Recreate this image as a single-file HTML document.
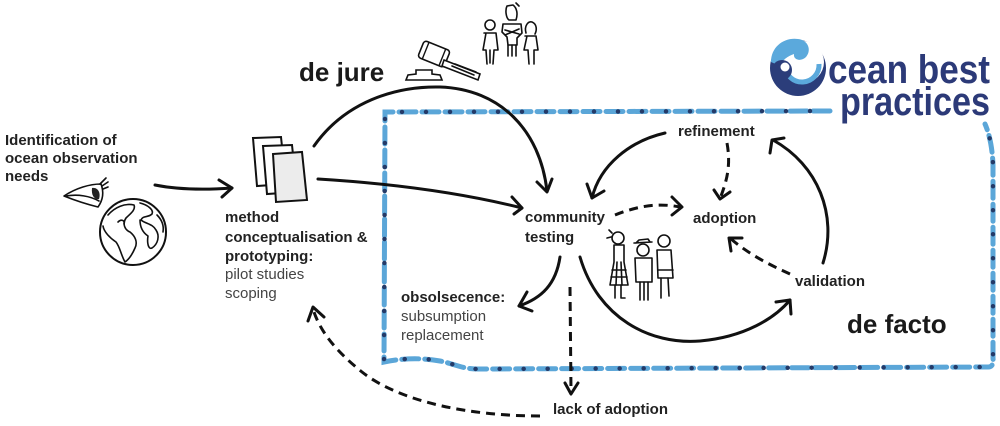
<!DOCTYPE html>
<html>
<head>
<meta charset="utf-8">
<style>
html,body{margin:0;padding:0;background:#fff;}
svg{display:block;}
.b{font-family:"Liberation Sans",Arial,sans-serif;font-weight:bold;font-size:15px;fill:#222;}
.n{font-family:"Liberation Sans",Arial,sans-serif;font-weight:normal;font-size:15px;fill:#444;}
.big{font-family:"Liberation Sans",Arial,sans-serif;font-weight:bold;font-size:26px;fill:#1a1a1a;}
.logo{font-family:"Liberation Sans",Arial,sans-serif;font-weight:bold;font-size:40px;fill:#2c3a78;}
.a{fill:none;stroke:#111;stroke-width:3;stroke-linecap:round;stroke-linejoin:round;}
.d{fill:none;stroke:#111;stroke-width:3;stroke-dasharray:9 6;stroke-linecap:butt;}
.t{fill:none;stroke:#111;stroke-width:1.6;stroke-linecap:round;stroke-linejoin:round;}
</style>
</head>
<body>
<svg width="1000" height="426" viewBox="0 0 1000 426" xmlns="http://www.w3.org/2000/svg">
<rect width="1000" height="426" fill="#fff"/>

<!-- border box -->
<path id="bx" d="M830,111 L385,112 L384,362 C398,359 418,357 440,361 C455,364 462,369 478,369 L988,367 Q994,367 993,358 L993,165 Q992,140 985,124" fill="none" stroke="#5ba6d8" stroke-width="5" stroke-dasharray="17 6" stroke-linecap="round"/>
<path d="M830,111 L385,112 L384,362 C398,359 418,357 440,361 C455,364 462,369 478,369 L988,367 Q994,367 993,358 L993,165 Q992,140 985,124" fill="none" stroke="#243a68" stroke-width="4.5" stroke-dasharray="0 24" stroke-dashoffset="-20" stroke-linecap="round"/>

<!-- logo -->
<circle cx="798" cy="68" r="28" fill="#2b3d7a"/>
<circle cx="803" cy="62" r="21" fill="#fff"/>
<path d="M802,62 m-17,4 a17,17 0 0 0 34,-2" fill="none" stroke="#5ba9dc" stroke-width="5"/>
<path d="M771,62 C771,46 785,37 798,39 C808,40 812,50 806,57 C801,62 793,60 794,54 C788,56 782,60 780,66 Z" fill="#5ba9dc"/>
<circle cx="782" cy="70" r="10" fill="#2b3d7a"/>
<circle cx="785" cy="67" r="4.5" fill="#fff"/>
<text class="logo" x="828" y="83" textLength="162" lengthAdjust="spacingAndGlyphs">cean best</text>
<text class="logo" x="840" y="115" textLength="150" lengthAdjust="spacingAndGlyphs">practices</text>

<!-- texts -->
<text class="b" x="5" y="145">Identification of</text>
<text class="b" x="5" y="163">ocean observation</text>
<text class="b" x="5" y="181">needs</text>

<text class="b" x="225" y="222">method</text>
<text class="b" x="225" y="242">conceptualisation &amp;</text>
<text class="b" x="225" y="261">prototyping:</text>
<text class="n" x="225" y="279">pilot studies</text>
<text class="n" x="225" y="298">scoping</text>

<text class="big" x="299" y="81">de jure</text>
<text class="big" x="847" y="333">de facto</text>

<text class="b" x="678" y="136">refinement</text>
<text class="b" x="525" y="222">community</text>
<text class="b" x="525" y="242">testing</text>
<text class="b" x="693" y="223">adoption</text>
<text class="b" x="795" y="286">validation</text>
<text class="b" x="401" y="302">obsolsecence:</text>
<text class="n" x="401" y="321">subsumption</text>
<text class="n" x="401" y="340">replacement</text>
<text class="b" x="553" y="414">lack of adoption</text>

<!-- arrows -->
<path class="a" d="M155,185 C180,190 205,190 232,188"/>
<path class="a" d="M219,180 L232,188 L222,197"/>

<path class="a" d="M314,146 C345,102 395,86 440,87 C500,89 540,130 547,191"/>
<path class="a" d="M537,182 L547,192 L552,179"/>

<path class="a" d="M318,179 C400,184 470,195 522,208"/>
<path class="a" d="M512,197 L522,208 L514,214"/>

<path class="a" d="M665,133 C630,141 600,165 592,198"/>
<path class="a" d="M587,184 L592,198 L604,191"/>

<path class="d" d="M727,143 C731,165 727,180 721,196"/>
<path class="a" d="M714,190 L720,199 L730,192"/>

<path class="d" d="M615,215 C640,205 660,203 680,207"/>
<path class="a" d="M672,197 L682,207 L672,215"/>

<path class="d" d="M790,274 C770,265 750,255 731,239"/>
<path class="a" d="M731,251 L729,238 L742,238"/>

<path class="a" d="M823,263 C838,215 818,165 773,140"/>
<path class="a" d="M770,153 L772,140 L784,138"/>

<path class="a" d="M560,257 C556,284 542,298 519,306"/>
<path class="a" d="M527,292 L519,306 L532,311"/>

<path class="a" d="M580,257 C598,318 650,345 700,341 C745,337 775,318 790,300"/>
<path class="a" d="M776,302 L790,300 L791,314"/>

<path class="d" d="M570,287 L571,392"/>
<path class="a" d="M565,383 L571,394 L578,383"/>

<path class="d" d="M540,416 C470,416 400,402 362,372 C337,352 320,332 313,309"/>
<path class="a" d="M308,321 L313,307 L324,317"/>

<!-- eye -->
<path class="t" d="M64,196 C76,188 90,184 101,184 C104,192 103,200 98,207 C86,204 74,200 64,196 Z"/>
<path class="t" d="M66,196 C78,194 90,196 99,201"/>
<path d="M92,188 C98,187 101,193 99,199 C95,200 91,196 92,188 Z" fill="#222"/>
<path class="t" d="M100,184 L106,178 M102,186 L108,182 M103,189 L108,187"/>

<!-- globe -->
<circle cx="133" cy="232" r="33" fill="#fff" stroke="#111" stroke-width="2"/>
<path class="t" d="M108,215 C115,207 125,203 134,205 C136,210 130,214 126,218 C122,224 125,230 130,232 C135,236 138,242 135,248 C132,255 128,260 125,262 C121,255 120,247 116,242 C110,238 104,232 103,226"/>
<path class="t" d="M140,203 C148,205 154,210 152,214 C148,218 143,215 141,220 C146,224 153,224 156,230 C160,236 158,244 152,248 C148,250 147,242 148,236 C142,232 140,226 140,220"/>
<path class="t" d="M118,222 C121,219 125,220 124,224"/>
<path class="t" d="M157,215 C162,220 164,226 163,232"/>

<!-- papers -->
<path d="M253,138 L281,137 L286,184 L257,186 Z" fill="#fff" stroke="#111" stroke-width="2"/>
<path d="M263,146 L292,145 L297,192 L267,194 Z" fill="#fff" stroke="#111" stroke-width="2"/>
<path d="M273,154 L302,152 L307,200 L276,202 Z" fill="#ececec" stroke="#111" stroke-width="2"/>

<!-- gavel -->
<path d="M406,80 L442,80 L440,75 L432,74 L432,70 L416,70 L416,74 L408,75 Z" fill="#fff" stroke="#111" stroke-width="1.6"/>
<g transform="rotate(22 434 54)">
<rect x="420" y="45" width="28" height="18" rx="3" fill="#fff" stroke="#111" stroke-width="1.6"/>
<line x1="425" y1="45" x2="425" y2="63" stroke="#111" stroke-width="1.4"/>
<line x1="443" y1="45" x2="443" y2="63" stroke="#111" stroke-width="1.4"/>
</g>
<path d="M444,60 L480,74 L478,80 L442,66 Z" fill="#fff" stroke="#111" stroke-width="1.6"/>
<path class="t" d="M452,66 L474,75 M455,64 L476,72"/>

<!-- adult people -->
<g class="t">
<circle cx="490" cy="25" r="5"/>
<path d="M484,33 L496,33 L498,50 L494,50 L493,64 M486,33 L483,50 L486,50 L487,64 M490,50 L490,63"/>
<path d="M507,6 C505,10 506,18 509,20 L516,20 C518,14 517,8 513,5 Z"/>
<path d="M516,3 L519,6"/>
<path d="M503,24 L521,24 L522,33 L517,38 L517,45 L508,45 L507,37 L502,32 Z M505,30 L519,34 M505,35 L519,29"/>
<path d="M508,45 L508,56 M512,45 L512,56 M516,45 L516,56"/>
<path d="M526,33 C524,26 528,21 532,22 C537,24 537,30 535,34"/>
<path d="M525,36 L536,36 L538,50 L534,50 L534,64 M527,36 L524,50 L528,50 L529,64"/>
</g>

<!-- children -->
<g class="t">
<circle cx="618" cy="238" r="6"/>
<path d="M612,233 L609,230 M611,237 L607,238"/>
<path d="M614,245 L624,245 L624,262 L628,285 L610,285 L614,262 Z"/>
<path d="M612,270 L626,270 M611,277 L627,277 M617,262 L616,285 M621,262 L622,285"/>
<path d="M615,285 L615,298 M621,285 L621,298 L625,298"/>
<circle cx="643" cy="250" r="6"/>
<path d="M634,243 L652,242 M636,243 L639,240 L648,239 L650,242"/>
<path d="M635,258 L652,258 L652,282 L636,282 Z"/>
<path d="M640,282 L640,300 M644,282 L644,300 M648,282 L648,300"/>
<circle cx="664" cy="241" r="6"/>
<path d="M657,250 L671,250 L673,278 L658,278 Z"/>
<path d="M658,270 L673,270"/>
<path d="M661,278 L661,298 M668,278 L669,296"/>
</g>
</svg>
</body>
</html>
